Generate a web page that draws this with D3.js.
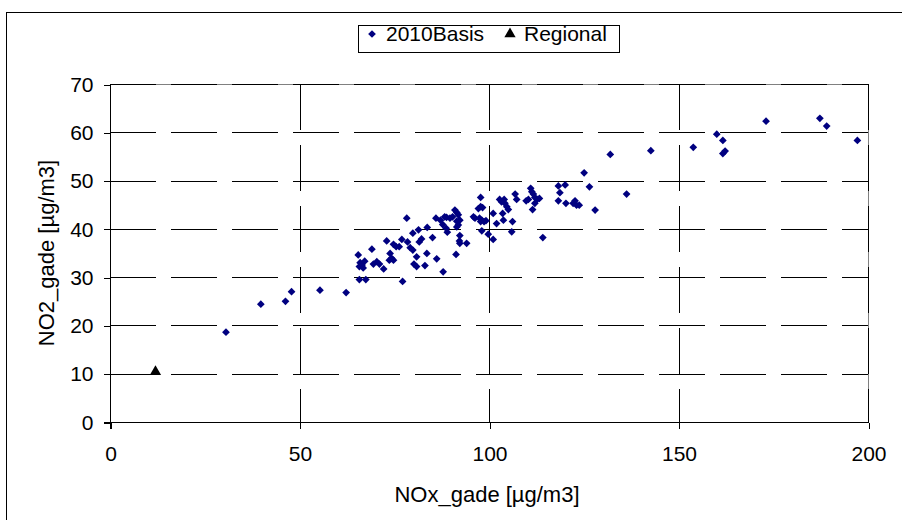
<!DOCTYPE html>
<html>
<head>
<meta charset="utf-8">
<script src="https://cdn.jsdelivr.net/npm/d3@7"></script>
<style>
  body { margin: 0; background: #fff; }
  text { font-family: "Liberation Sans", Arial, sans-serif; fill: #000; }
</style>
</head>
<body>
<svg id="chart" width="902" height="520"></svg>
<script>
// NOx / NO2 values
const basisNOx = [30.6, 39.8, 46.3, 47.9, 55.4, 62.3, 65.5, 65.8, 67.5, 66.0, 66.5, 67.2, 65.8, 66.8,
  69.1, 69.5, 70.4, 71.1, 72.2, 73.0, 73.9, 74.3, 74.8, 73.7, 74.8, 75.5, 76.3, 77.0, 77.2, 78.3,
  78.5, 79.2, 79.9, 79.9, 80.9, 80.2, 80.9, 81.4, 81.6, 82.2, 83.1, 83.6, 83.7, 85.1, 86.0, 86.2,
  87.2, 87.8, 88.3, 88.8, 87.9, 88.7, 89.0, 89.7, 90.4, 91.0, 91.5, 91.9, 92.3, 91.5, 91.5, 91.9,
  92.3, 92.2, 92.3, 91.3, 94.1, 95.9, 96.3, 97.2, 97.8, 97.8, 98.3, 97.5, 98.1, 98.7, 99.2, 97.8,
  98.1, 99.8, 101.1, 101.1, 102.0, 102.8, 103.3, 104.0, 104.2, 104.7, 105.1, 103.6, 103.8, 106.0,
  106.2, 106.9, 107.3, 109.8, 110.4, 111.0, 111.3, 111.7, 112.1, 112.7, 113.3, 112.1, 111.5, 114.2,
  118.3, 120.1, 118.7, 118.3, 120.3, 122.2, 122.7, 123.1, 123.8, 125.1, 126.5, 128.0, 132.0, 136.3,
  142.7, 153.9, 160.1, 161.7, 161.7, 162.3, 173.1, 187.3, 189.1, 197.2];
const basisNO2 = [18.6, 24.4, 25.0, 27.0, 27.3, 26.8, 34.6, 29.5, 29.5, 33.0, 32.5, 33.3, 32.2, 31.9,
  35.8, 32.7, 33.2, 32.7, 31.7, 37.5, 34.9, 33.9, 33.5, 33.5, 36.8, 36.3, 36.3, 37.8, 29.1, 42.2,
  37.3, 36.1, 35.6, 39.1, 34.2, 32.7, 32.2, 39.8, 37.3, 37.9, 32.4, 34.9, 40.3, 38.2, 42.2, 33.8,
  41.8, 40.9, 42.5, 42.4, 31.1, 40.1, 39.3, 42.2, 42.5, 43.9, 43.4, 42.9, 41.8, 41.6, 40.4, 40.8,
  38.6, 37.5, 37.0, 34.7, 37.0, 42.5, 42.2, 44.2, 46.5, 44.6, 44.4, 42.2, 41.8, 41.5, 41.7, 41.5,
  39.6, 38.9, 37.8, 43.2, 41.1, 46.1, 45.6, 46.1, 45.3, 44.6, 44.0, 43.2, 41.8, 39.4,
  41.5, 47.2, 46.1, 45.8, 46.1, 48.4, 47.7, 47.2, 46.5, 46.1, 46.3, 45.3, 44.0, 38.2,
  48.9, 49.1, 47.5, 45.8, 45.3, 45.3, 45.8, 44.9, 44.9, 51.6, 48.7, 43.9, 55.4, 47.2,
  56.2, 56.9, 59.6, 58.3, 55.6, 56.1, 62.3, 62.9, 61.3, 58.3];
const regionalNOx = [12];
const regionalNO2 = [10.4];

const xTicks = [0, 50, 100, 150, 200];
const yTicks = [0, 10, 20, 30, 40, 50, 60, 70];
const seriesNames = ['2010Basis', 'Regional'];

const svg = d3.select('#chart');
const plotL = 110, plotR = 868, plotT = 84, plotB = 422;
const fontSize = 21;

const x = d3.scaleLinear().domain([0, 200]).range([plotL, plotR]);
const y = d3.scaleLinear().domain([0, 70]).range([plotB, plotT]);

// outer chart border
svg.append('rect')
  .attr('x', 6.5).attr('y', 12.5)
  .attr('width', 900).attr('height', 520)
  .attr('fill', '#fff').attr('stroke', '#000').attr('stroke-width', 1);

// plot area border (grey)
svg.append('rect')
  .attr('x', plotL + 0.5).attr('y', plotT + 0.5)
  .attr('width', plotR - plotL).attr('height', plotB - plotT)
  .attr('fill', 'none').attr('stroke', '#808080');

// dashed grid
const grid = svg.append('g').attr('shape-rendering', 'crispEdges');
grid.selectAll('.hgrid')
  .data(yTicks.filter(d => d > 0))
  .enter().append('line')
  .attr('x1', plotL).attr('x2', plotR)
  .attr('y1', d => Math.round(y(d)) + 0.5).attr('y2', d => Math.round(y(d)) + 0.5)
  .attr('stroke', '#000').attr('stroke-dasharray', '46,15');
grid.selectAll('.vgrid')
  .data(xTicks.filter(d => d > 0))
  .enter().append('line')
  .attr('y1', plotT).attr('y2', plotB)
  .attr('x1', d => Math.round(x(d)) + 0.5).attr('x2', d => Math.round(x(d)) + 0.5)
  .attr('stroke', '#000').attr('stroke-dasharray', '46,15');

// axes
const xAxis = d3.axisBottom(x).tickValues(xTicks).tickSize(6).tickPadding(18);
const yAxis = d3.axisLeft(y).tickValues(yTicks).tickSize(7).tickPadding(10);

const gx = svg.append('g')
  .attr('transform', `translate(0.5,${plotB + 0.5})`)
  .call(xAxis);
const gy = svg.append('g')
  .attr('transform', `translate(${plotL + 0.5},0.5)`)
  .call(yAxis);
[gx, gy].forEach(g => {
  g.selectAll('path, line').attr('stroke', '#000').attr('shape-rendering', 'crispEdges');
  g.select('.domain').remove();
  g.selectAll('text').attr('font-size', fontSize).attr('font-family', '"Liberation Sans", Arial, sans-serif');
});
gx.append('line').attr('x1', plotL - 7).attr('x2', plotR).attr('stroke', '#000').attr('shape-rendering', 'crispEdges');
gy.append('line').attr('y1', plotT).attr('y2', plotB + 6).attr('stroke', '#000').attr('shape-rendering', 'crispEdges');

// axis titles
svg.append('text')
  .attr('x', 487).attr('y', 502)
  .attr('text-anchor', 'middle').attr('font-size', 22)
  .text('NOx_gade [µg/m3]');
svg.append('text')
  .attr('transform', `translate(54,${(plotT + plotB) / 2}) rotate(-90)`)
  .attr('text-anchor', 'middle').attr('font-size', 22)
  .text('NO2_gade [µg/m3]');

// markers
const diamond = d3.symbol(d3.symbolSquare, 30);
const triangle = d3.symbol(d3.symbolTriangle, 55);

svg.append('g').selectAll('path')
  .data(basisNOx.map((v, i) => [v, basisNO2[i]]))
  .enter().append('path')
  .attr('d', diamond)
  .attr('fill', '#000080')
  .attr('transform', d => `translate(${x(d[0])},${y(d[1])}) rotate(45)`);

svg.append('g').selectAll('path')
  .data(regionalNOx.map((v, i) => [v, regionalNO2[i]]))
  .enter().append('path')
  .attr('d', triangle)
  .attr('fill', '#000')
  .attr('transform', d => `translate(${x(d[0])},${y(d[1])})`);

// legend
const legend = svg.append('g');
legend.append('rect')
  .attr('x', 358.5).attr('y', 25.5).attr('width', 261).attr('height', 27)
  .attr('fill', '#fff').attr('stroke', '#000');
legend.append('path').attr('d', diamond).attr('fill', '#000080')
  .attr('transform', 'translate(372,34) rotate(45)');
legend.append('text').attr('x', 386).attr('y', 41).attr('font-size', fontSize).text(seriesNames[0]);
legend.append('path').attr('d', triangle).attr('fill', '#000')
  .attr('transform', 'translate(510,34)');
legend.append('text').attr('x', 524).attr('y', 41).attr('font-size', fontSize).text(seriesNames[1]);
</script>
</body>
</html>
